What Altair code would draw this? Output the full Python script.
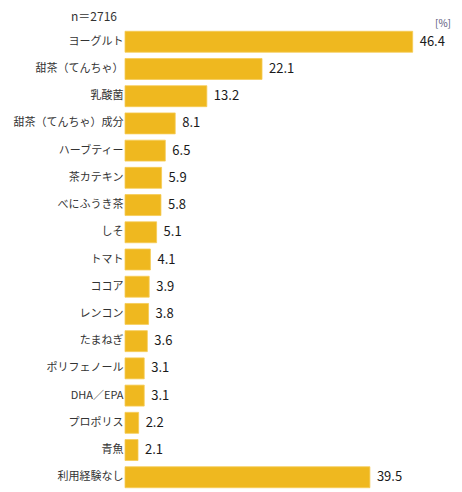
import altair as alt
import pandas as pd

items = ["ヨーグルト", "甜茶（てんちゃ）", "乳酸菌", "甜茶（てんちゃ）成分", "ハーブティー",
         "茶カテキン", "べにふうき茶", "しそ", "トマト", "ココア", "レンコン", "たまねぎ",
         "ポリフェノール", "DHA／EPA", "プロポリス", "青魚", "利用経験なし"]
shares = [46.4, 22.1, 13.2, 8.1, 6.5, 5.9, 5.8, 5.1, 4.1, 3.9, 3.8, 3.6, 3.1, 3.1, 2.2, 2.1, 39.5]

df = pd.DataFrame({"item": items, "share": shares})
df["label"] = df["share"].map(lambda v: f"{v:.1f}")
one_row = pd.DataFrame({"k": [0]})

FONT = "Noto Sans CJK JP"
BAR = "#EFB81F"

y_enc = alt.Y("item:N", sort=items, title=None,
              scale=alt.Scale(paddingInner=0.23, paddingOuter=0.12),
              axis=alt.Axis(domain=False, ticks=False, labelFont=FONT, labelFontSize=11,
                            labelColor="#333333", labelPadding=2))
x_enc = alt.X("share:Q", title=None, scale=alt.Scale(domain=[0, 50]), axis=None)

bars = alt.Chart(df).mark_bar(color=BAR, stroke="#F6CC55", strokeWidth=0.8).encode(x=x_enc, y=y_enc)

values = alt.Chart(df).mark_text(align="left", baseline="middle", dx=7, font=FONT,
                                 fontSize=13, color="#1a1a1a").encode(
    x=x_enc, y=alt.Y("item:N", sort=items), text="label:N")

n_note = alt.Chart(one_row).mark_text(align="right", baseline="middle", font=FONT,
                                      fontSize=12, color="#333333").encode(
    x=alt.value(-8), y=alt.value(-11), text=alt.value("n＝2716"))

unit = alt.Chart(one_row).mark_text(align="left", baseline="middle", font=FONT,
                                    fontSize=10, color="#555577").encode(
    x=alt.value(310), y=alt.value(-4), text=alt.value("[%]"))

chart = (bars + values + n_note + unit).properties(
    width=310, height=463,
    autosize=alt.AutoSizeParams(type="none"),
    padding={"left": 125, "top": 28, "right": 27, "bottom": 1},
).configure(background="white").configure_view(stroke=None, strokeWidth=0)

chart.save("out.html", embed_options={"renderer": "svg", "actions": False})
